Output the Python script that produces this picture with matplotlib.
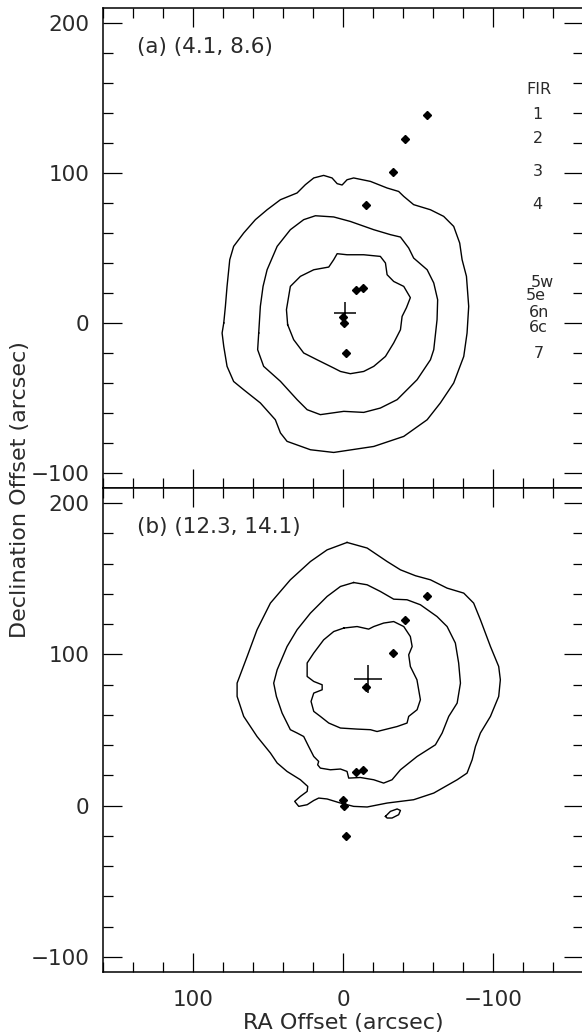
import numpy as np
import matplotlib.pyplot as plt
from matplotlib.ticker import MultipleLocator

# FIR sources (RA, Dec offsets in arcsec)
fir_ra = [-56, -41.6, -33.1, -15.4, -13.6, -8.9, 0.2, -0.5, -1.8]
fir_dec = [138.9, 122.9, 100.7, 78.4, 23.3, 22.2, 3.8, 0, -20]

fir_names = ['FIR', '1', '2', '3', '4', '5w', '5e', '6n', '6c', '7']
name_ra = [-130.3, -129.8, -129.8, -129.8, -129.8, -132.7, -128.3, -130.5, -130, -130.3]
name_dec = [155.5, 138.9, 122.9, 100.9, 78.9, 27.3, 18.2, 7.1, -2.9, -20]

panel_titles = ['(a) (4.1, 8.6)', '(b) (12.3, 14.1)']
cross_ra = [-1.6, -16.7]
cross_dec = [6.7, 83.5]

# panel (a) contours
a_outer_ra = [79.5, 78.4, 77.3, 75.5, 72.9, 66.2, 58.4, 50.6, 41.7, 30.6, 25.1, 19.5, 12.9, 7.3, 3.9, 0.6,
              -2.7, -7.1, -18.3, -29.4, -37.1, -40.5, -47.1, -58.3, -67.1, -73.8, -77.8, -79.4, -82.3,
              -83.8, -82.7, -80.5, -73.8, -64.9, -56.1, -40.5, -20.5, 6.2, 21.7, 37.3, 41.7, 45.1, 55.1,
              66.2, 72.9, 77.3, 79.5, 80.6]
a_outer_dec = [0, 11.1, 24.4, 42.2, 51.1, 60.0, 68.9, 75.5, 82.2, 86.7, 92.2, 96.7, 98.4, 96.7, 92.9, 92.0,
               95.5, 96.7, 94.4, 90.0, 87.7, 84.4, 78.9, 75.5, 71.1, 64.4, 53.3, 42.2, 31.1,
               11.1, -6.7, -22.3, -40.0, -53.3, -64.5, -75.6, -82.3, -86.3, -84.5, -78.9, -73.3, -64.5, -53.3,
               -44.5, -39.0, -28.9, -15.6, -6.7]
a_mid_ra = [56.2, 55.1, 53.3, 50.6, 43.9, 35.1, 26.2, 18.4, 6.2, -4.9, -20.5, -31.6, -38.3, -43.8, -47.1,
            -56.1, -60.5, -63.1, -62.7, -60.5, -58.3, -49.4, -36.1, -24.9, -13.8, -0.5, 15.1, 23.9, 30.6,
            41.7, 52.9, 56.9]
a_mid_dec = [-6.7, 11.1, 24.4, 35.5, 51.1, 62.2, 68.9, 71.5, 70.7, 67.7, 62.2, 58.9, 57.3, 50.0, 43.3,
             35.5, 26.7, 15.5, 2.2, -17.8, -24.5, -37.8, -51.1, -56.7, -59.6, -58.9, -61.1, -57.8, -51.1,
             -38.9, -28.9, -17.8]
a_inner_ra = [36.9, 37.7, 35.1, 28.4, 19.5, 9.5, 6.2, 3.9, -2.7, -13.8, -24.9, -28.3, -29.4, -33.8, -40.5,
              -44.9, -42.3, -39.4, -38.3, -33.8, -28.3, -20.5, -13.8, -4.9, 1.7, 6.2, 17.3, 26.2, 32.9]
a_inner_dec = [-1.1, 8.9, 24.4, 31.1, 35.5, 37.3, 42.2, 46.2, 45.5, 45.5, 44.4, 40.0, 32.2, 27.7, 24.4,
               16.9, 10.2, 4.4, -4.5, -13.3, -22.3, -28.9, -32.3, -33.8, -32.3, -30.0, -24.5, -20.0, -11.1]

# panel (b) contours
b_outer_ra = [-2.7, 10.6, 21.7, 35.1, 48.4, 57.3, 63.9, 70.6, 70.6, 66.2, 57.3, 48.4, 43.9, 37.3, 28.4,
              23.5, 23.9, 28.4, 32.2, 29.5, 23.9, 19.5, 16.2, 10.6, 1.7, -7.1, -16.1, -29.4, -47.1, -60.5,
              -76.1, -82.7, -86.1, -88.3, -91.6, -98.3, -103.8, -104.9, -103.8, -98.3, -91.6, -87.1,
              -80.5, -69.4, -58.3, -48.3, -38.3, -29.4, -16.1]
b_outer_dec = [174.0, 169.1, 161.4, 149.3, 133.9, 116.3, 98.6, 81.0, 72.2, 59.0, 45.7, 34.8, 28.2, 22.6, 17.1,
               12.7, 9.4, 6.1, 2.8, -0.5, 0.6, 3.4, 5.0, 4.4, 1.7, -0.5, -0.9, 1.7, 3.9, 8.3,
               17.1, 21.5, 30.3, 39.1, 48.0, 59.0, 72.2, 83.2, 92.0, 105.2, 122.9, 133.9,
               140.5, 143.8, 149.3, 152.0, 155.9, 161.4, 170.3]
b_island_ra = [-28.3, -31.6, -36.1, -38.3, -37.1, -32.7, -29.4]
b_island_dec = [-7.1, -3.8, -2.2, -3.2, -6.0, -8.2, -8.2]
b_mid_ra = [-7.1, 1.7, 10.6, 21.7, 30.6, 37.3, 43.9, 46.2, 44.4, 40.6, 35.1, 30.6, 26.2, 22.9, 19.5, 16.2,
            16.9, 15.1, 8.4, 1.7, -2.7, -3.8, -11.6, -20.5, -27.1, -32.7, -38.3, -49.4, -61.6, -66.1,
            -70.5, -76.1, -78.3, -77.1, -74.9, -69.4, -62.7, -51.6, -42.7, -33.8, -24.9, -16.1]
b_mid_dec = [147.5, 144.9, 138.3, 127.3, 116.3, 105.2, 89.8, 81.0, 72.2, 61.2, 50.2, 48.0, 45.7, 39.1, 32.5,
             29.2, 27.0, 24.8, 23.7, 24.2, 22.6, 18.2, 18.6, 17.1, 14.9, 17.1, 23.7, 32.5, 40.2, 48.0,
             59.0, 67.8, 81.0, 94.3, 107.5, 118.4, 125.0, 132.8, 136.1, 136.5, 141.6, 146.0]
b_inner_ra = [-0.5, 6.2, 12.9, 19.5, 23.9, 23.9, 19.5, 13.9, 13.9, 19.5, 21.3, 19.5, 15.1, 9.5, 1.7, -9.4,
              -18.3, -22.7, -36.1, -42.7, -43.8, -49.4, -51.6, -49.3, -44.9, -43.8, -46.1, -44.9, -40.5,
              -33.8, -27.1, -20.5, -17.1, -9.4]
b_inner_dec = [117.4, 115.1, 109.6, 100.9, 94.3, 85.4, 82.1, 79.9, 76.6, 74.4, 68.9, 62.3, 59.0, 54.6, 51.3,
               50.6, 50.2, 49.0, 52.3, 54.6, 59.0, 63.4, 70.0, 83.2, 92.0, 99.7, 105.2, 111.8, 118.4,
               121.7, 120.7, 118.4, 116.7, 118.4]

contours_a = [(a_outer_ra, a_outer_dec), (a_mid_ra, a_mid_dec), (a_inner_ra, a_inner_dec)]
contours_b = [(b_outer_ra, b_outer_dec), (b_island_ra, b_island_dec), (b_mid_ra, b_mid_dec),
              (b_inner_ra, b_inner_dec)]

plt.rcParams['font.family'] = 'DejaVu Sans'
txt = '#2a2a2a'

fig = plt.figure(figsize=(5.82, 10.34), dpi=100)
W, H = 582, 1034
ax_a = fig.add_axes([103 / W, 1 - 488 / H, 480 / W, 480 / H])
ax_b = fig.add_axes([103 / W, 1 - 972 / H, 480 / W, 484 / H])

for i, (ax, conts) in enumerate([(ax_a, contours_a), (ax_b, contours_b)]):
    for cra, cdec in conts:
        ax.plot(np.r_[cra, cra[:1]], np.r_[cdec, cdec[:1]], color='black', lw=1.0)
    ax.plot(fir_ra, fir_dec, 'D', color='black', ms=4, mec='black')
    ax.plot(cross_ra[i], cross_dec[i], '+', color='black', ms=16 + 4 * i, mew=1.1)
    ax.text(0.071, 0.919, panel_titles[i], transform=ax.transAxes, fontsize=15.5,
            color=txt, va='center', ha='left')

    ax.set_xlim(160, -160)
    ax.set_ylim(-110, 210)
    ax.xaxis.set_major_locator(MultipleLocator(100))
    ax.xaxis.set_minor_locator(MultipleLocator(20))
    ax.yaxis.set_major_locator(MultipleLocator(100))
    ax.yaxis.set_minor_locator(MultipleLocator(20))
    ax.tick_params(which='both', direction='in', top=True, right=True, width=0.9,
                   colors='black', labelcolor=txt, labelsize=15.5)
    ax.tick_params(which='major', length=14)
    ax.tick_params(which='minor', length=7)
    ax.tick_params(axis='y', pad=10)
    ax.tick_params(axis='x', pad=13)
    for s in ax.spines.values():
        s.set_linewidth(1.1)

ax_a.tick_params(labelbottom=False)

for name, r, d in zip(fir_names, name_ra, name_dec):
    ax_a.text(r, d, name, fontsize=11.5, color=txt, ha='center', va='center')

ax_b.set_xlabel('RA Offset (arcsec)', fontsize=16, color=txt, labelpad=2)
fig.text(20 / W, 1 - 490 / H, 'Declination Offset (arcsec)', rotation=90,
         fontsize=16, color=txt, ha='center', va='center')

fig.savefig('out.png', dpi=100)
